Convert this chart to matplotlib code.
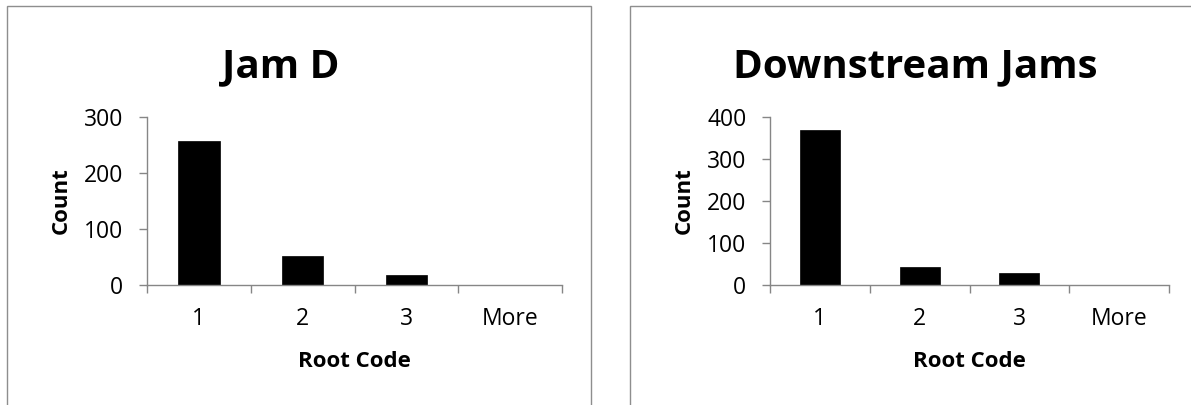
import matplotlib.pyplot as plt
from matplotlib.patches import Rectangle

# Histogram counts per root code
categories = ["1", "2", "3", "More"]
jam_d_counts = [257, 51, 17, 0]
downstream_counts = [369, 43, 28, 0]
jam_d_yticks = [0, 100, 200, 300]
downstream_yticks = [0, 100, 200, 300, 400]

W, H = 1191, 405
AXIS_GREY = "#868686"
plt.rcParams['font.family'] = ['Open Sans', 'DejaVu Sans']

fig = plt.figure(figsize=(W / 100, H / 100), dpi=100)


def px_rect(x0, y_top, x1, y_bot):
    # pixel box (top-left origin) -> figure fraction rect
    return [x0 / W, 1 - y_bot / H, (x1 - x0) / W, (y_bot - y_top) / H]


def draw_hist(rect, counts, yticks, title, title_x, frame):
    # chart area border like the Excel chart object
    fx0, fy0, fx1, fy1 = frame
    fig.add_artist(Rectangle((fx0 / W, 1 - fy1 / H), (fx1 - fx0) / W, (fy1 - fy0) / H,
                             transform=fig.transFigure, fill=False,
                             edgecolor="#8e8e8e", linewidth=1.0, clip_on=False))

    ax = fig.add_axes(px_rect(*rect))
    pos = [i + 0.5 for i in range(len(categories))]
    ax.bar(pos, counts, width=0.4, color="black", edgecolor="black", linewidth=0.5)

    ax.set_xlim(0, len(categories))
    ax.set_ylim(yticks[0], yticks[-1])
    ax.set_yticks(yticks)
    ax.set_xticks(range(len(categories) + 1))
    ax.set_xticklabels([])
    ax.set_xticks(pos, minor=True)
    ax.set_xticklabels(categories, minor=True)

    for side in ("top", "right"):
        ax.spines[side].set_visible(False)
    for side in ("left", "bottom"):
        ax.spines[side].set_color(AXIS_GREY)
        ax.spines[side].set_linewidth(1.0)

    ax.tick_params(axis="y", which="major", length=6, width=1.0, color=AXIS_GREY,
                   pad=11, labelsize=16.5)
    ax.tick_params(axis="x", which="major", length=6, width=1.0, color=AXIS_GREY)
    ax.tick_params(axis="x", which="minor", length=0, pad=16, labelsize=16.5)

    x_mid = (rect[0] + rect[2]) / 2
    fig.text(x_mid / W, 1 - 367 / H, "Root Code", ha="center", va="baseline",
             fontsize=16, fontweight="bold")
    fig.text((rect[0] - 80) / W, 1 - ((rect[1] + rect[3]) / 2) / H, "Count",
             ha="center", va="baseline", rotation=90, rotation_mode="anchor",
             fontsize=16, fontweight="bold")
    fig.text(title_x / W, 1 - 77 / H, title, ha="center", va="baseline",
             fontsize=29, fontweight="bold")
    return ax


draw_hist((147, 117, 562, 285), jam_d_counts, jam_d_yticks, "Jam D", 281,
          (7, 6, 591, 420))
draw_hist((770, 117, 1169, 285), downstream_counts, downstream_yticks,
          "Downstream Jams", 915, (630, 6, 1210, 420))

fig.savefig("out.png", dpi=100)
